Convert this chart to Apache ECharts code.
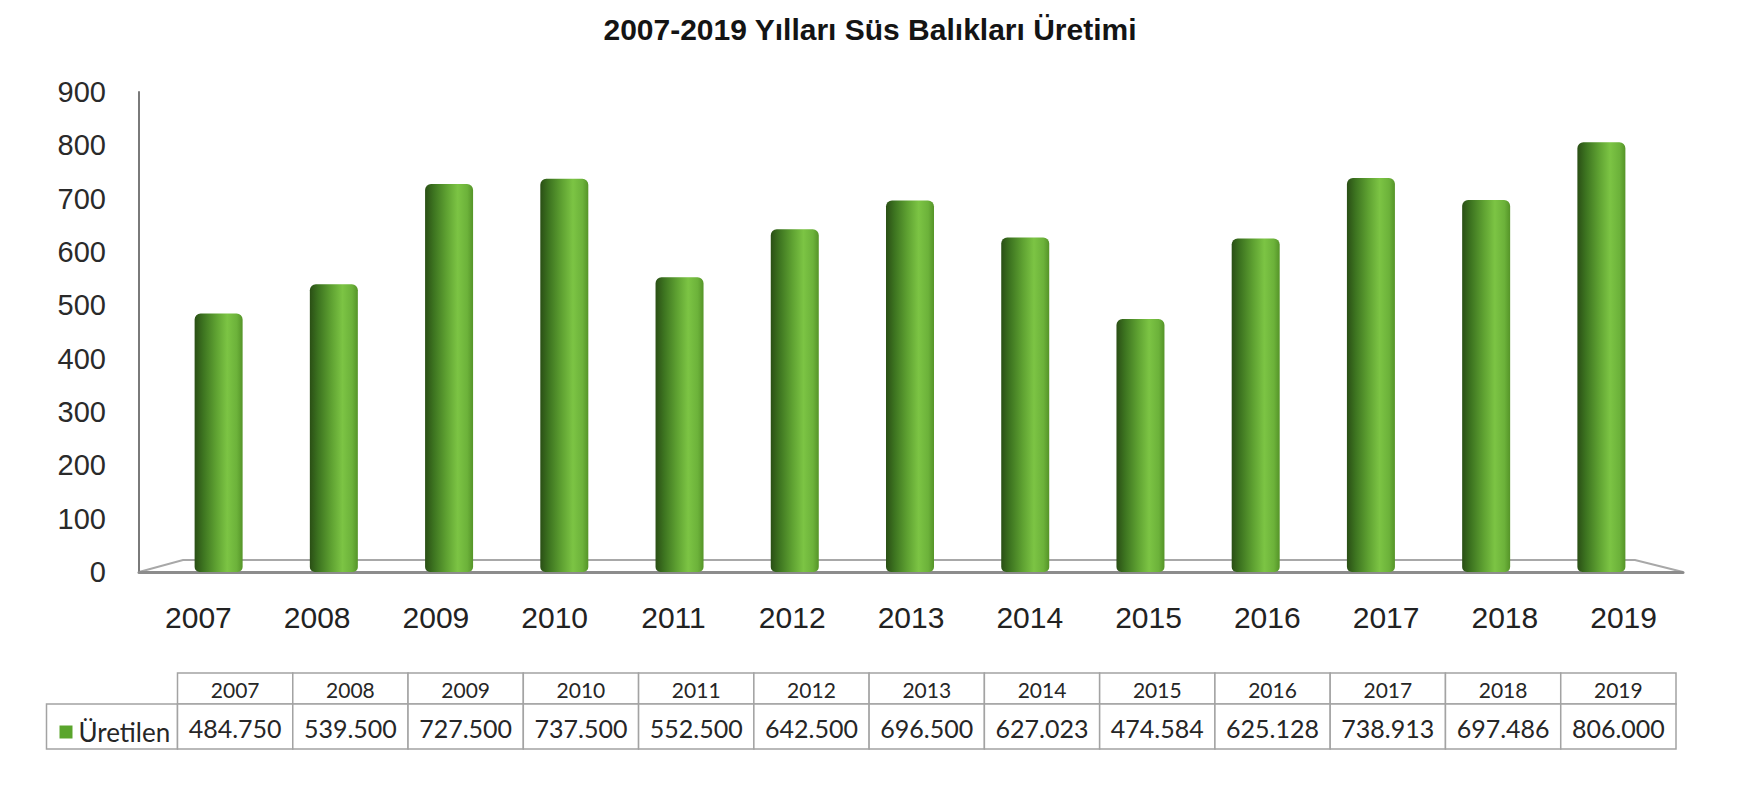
<!DOCTYPE html>
<html>
<head>
<meta charset="utf-8">
<script src="https://cdn.jsdelivr.net/npm/echarts@6/dist/echarts.min.js"></script>
<style>
  html, body { margin: 0; padding: 0; background: #ffffff; }
  #chart { width: 1740px; height: 788px; }
</style>
</head>
<body>
<div id="chart"></div>
<script>
// ---- data ----
const chartTitle = '2007-2019 Yılları Süs Balıkları Üretimi';
const seriesName = 'Üretilen';
const years = ['2007', '2008', '2009', '2010', '2011', '2012', '2013', '2014', '2015', '2016', '2017', '2018', '2019'];
const production = [484.750, 539.500, 727.500, 737.500, 552.500, 642.500, 696.500, 627.023, 474.584, 625.128, 738.913, 697.486, 806.000];
const yMin = 0, yMax = 900, yStep = 100;

// ---- layout ----
const plotTop = 92, plotBottom = 572;
const frontLeft = 139, frontRight = 1683;    // front plane of the 3D floor
const backLeft = 183, backRight = 1635, backY = 560; // back edge of floor
const barLeft = 161, barRight = 1659;         // mid-depth plane where bars stand
const tableLeft = 177.5, tableRight = 1676, tableTop = 673, headerH = 31, rowH = 45;
const legendCellLeft = 46.5;

const chart = echarts.init(document.getElementById('chart'), null, { renderer: 'svg' });

const barGradient = new echarts.graphic.LinearGradient(0, 0, 1, 0, [
  { offset: 0, color: '#2a4f15' },
  { offset: 0.18, color: '#3d7420' },
  { offset: 0.45, color: '#5fa232' },
  { offset: 0.68, color: '#7cc444' },
  { offset: 0.88, color: '#6cb23a' },
  { offset: 1, color: '#559428' }
]);

const cellFont = 'Lato, "Open Sans", sans-serif';

function tableRow(textFn, fontSize) {
  return function (params, api) {
    const cs = params.coordSys;
    const i = api.value(0);
    const cx = api.coord([i, 0])[0];
    const w = api.size([1, 0])[0];
    return {
      type: 'group',
      children: [
        { type: 'rect', shape: { x: cx - w / 2, y: cs.y, width: w, height: cs.height },
          style: { fill: '#ffffff', stroke: '#a3a3a3', lineWidth: 1.5 } },
        { type: 'text', style: { text: textFn(i), x: cx, y: cs.y + cs.height / 2 + 1,
          align: 'center', verticalAlign: 'middle', fontSize: fontSize, fontFamily: cellFont, fill: '#262626' } }
      ]
    };
  };
}

const idxData = years.map((y, i) => [i]);

const option = {
  animation: false,
  backgroundColor: '#ffffff',
  title: {
    text: chartTitle,
    left: 'center',
    top: 9,
    textStyle: { fontSize: 30, fontWeight: 'bold', fontFamily: '"Liberation Sans", Arial, sans-serif', color: '#141414' }
  },
  legend: {
    data: [{ name: seriesName, itemStyle: { color: '#5aa52c' } }],
    left: legendCellLeft + 8,
    top: tableTop + headerH + 10,
    icon: 'rect',
    itemWidth: 13,
    itemHeight: 13,
    itemGap: 4,
    selectedMode: false,
    textStyle: { fontSize: 26, fontFamily: cellFont, color: '#262626', padding: [0, 0, 0, 1] }
  },
  grid: [
    { left: barLeft, width: barRight - barLeft, top: plotTop, height: plotBottom - plotTop },
    { left: frontLeft, width: frontRight - frontLeft, top: plotTop, height: plotBottom - plotTop },
    { left: tableLeft, width: tableRight - tableLeft, top: tableTop, height: headerH },
    { left: tableLeft, width: tableRight - tableLeft, top: tableTop + headerH, height: rowH }
  ],
  xAxis: [
    { gridIndex: 0, type: 'category', data: years, show: false },
    { gridIndex: 1, type: 'category', data: years,
      axisLine: { show: true, lineStyle: { color: '#8c8c8c', width: 3 } },
      axisTick: { show: false },
      axisLabel: { fontSize: 30, fontFamily: '"Liberation Sans", Arial, sans-serif', color: '#222222', margin: 30 } },
    { gridIndex: 2, type: 'category', data: years, show: false },
    { gridIndex: 3, type: 'category', data: years, show: false }
  ],
  yAxis: [
    { gridIndex: 0, type: 'value', min: yMin, max: yMax, interval: yStep, show: false },
    { gridIndex: 1, type: 'value', min: yMin, max: yMax, interval: yStep,
      axisLine: { show: true, lineStyle: { color: '#7a7a7a', width: 2 } },
      axisTick: { show: false },
      splitLine: { show: false },
      axisLabel: { fontSize: 29, fontFamily: '"Liberation Sans", Arial, sans-serif', color: '#2a2a2a', margin: 33 } },
    { gridIndex: 2, type: 'value', min: 0, max: 1, show: false },
    { gridIndex: 3, type: 'value', min: 0, max: 1, show: false }
  ],
  graphic: [
    { type: 'polyline', z: 0, silent: true,
      shape: { points: [[frontLeft, plotBottom], [backLeft, backY], [backRight, backY], [frontRight, plotBottom]] },
      style: { stroke: '#a8a8a8', lineWidth: 2, fill: 'none' } },
    { type: 'rect', z: 0, silent: true,
      shape: { x: legendCellLeft, y: tableTop + headerH, width: tableLeft - legendCellLeft, height: rowH },
      style: { fill: '#ffffff', stroke: '#a3a3a3', lineWidth: 1.5 } }
  ],
  series: [
    { name: seriesName, type: 'bar', xAxisIndex: 0, yAxisIndex: 0, data: production,
      barWidth: 48, z: 3,
      itemStyle: { color: barGradient, borderRadius: [6, 6, 5, 5] } },
    { type: 'custom', xAxisIndex: 2, yAxisIndex: 2, data: idxData, encode: { x: 0 },
      renderItem: tableRow(i => years[i], 21), silent: true },
    { type: 'custom', xAxisIndex: 3, yAxisIndex: 3, data: idxData, encode: { x: 0 },
      renderItem: tableRow(i => production[i].toFixed(3), 25), silent: true }
  ]
};

chart.setOption(option);
</script>
</body>
</html>
